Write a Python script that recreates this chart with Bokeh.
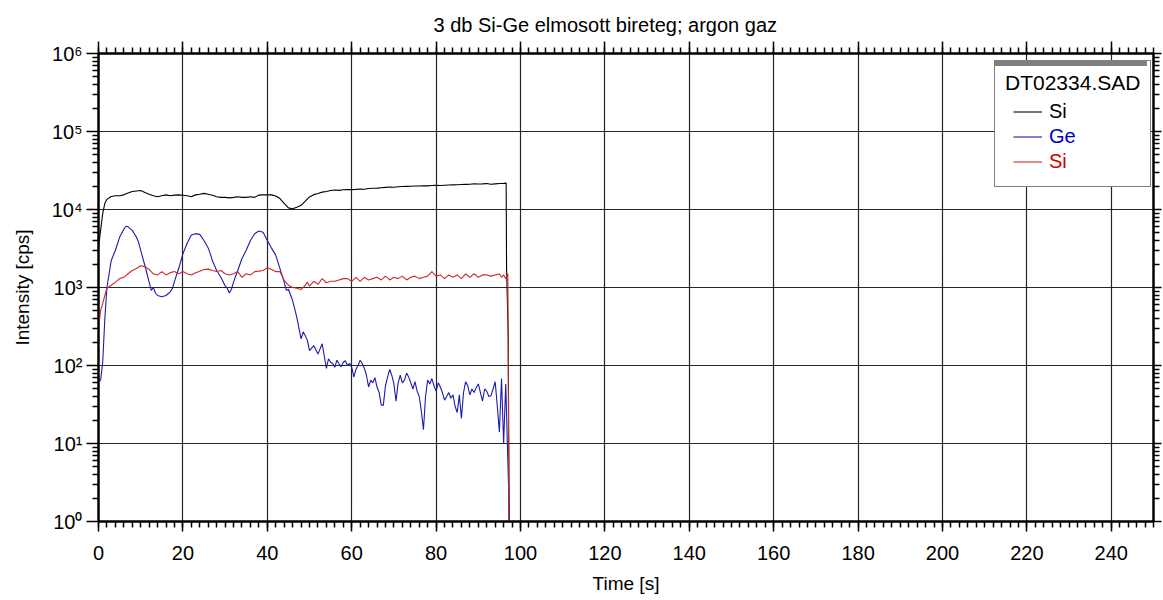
from bokeh.plotting import figure
from bokeh.models import (Range1d, LinearAxis, LogAxis, SingleIntervalTicker, FixedTicker,
                          Legend, LegendItem, CustomJSTickFormatter, CustomLabelingPolicy)
from bokeh.embed import file_html
from bokeh.resources import INLINE

FONT = "Liberation Sans"

# ---------------- data ----------------
t_si = [0, 0.5, 1, 1.5, 2, 3, 4, 5, 6, 7, 8, 9, 10, 11, 12, 13, 14, 15, 16, 17, 18, 19, 20,
        21, 22, 23, 24, 25, 26, 27, 28, 29, 30, 31, 32, 33, 34, 35, 36, 37, 38, 39, 40,
        41, 42, 43, 44, 45, 46, 47, 48, 49, 50, 51, 52, 53, 54, 55, 56, 57, 58, 59, 60,
        61, 62, 63, 64, 65, 66, 67, 68, 69, 70, 71, 72, 73, 74, 75, 76, 77, 78, 79, 80,
        81, 82, 83, 84, 85, 86, 87, 88, 89, 90, 91, 92, 93, 94, 95, 96, 96.6, 96.7,
        97.1, 97.2, 97.4]
si = [3300, 5400, 8900, 12000, 13500, 14700, 15000, 15000, 15400, 16300, 17000, 17300, 17500,
      16500, 15700, 15000, 14600, 15000, 15400, 15000, 15300, 15400, 15200,
      15000, 14600, 15400, 15700, 16100, 15700, 15200, 14600, 14300, 14300, 14100, 14300,
      14600, 14300, 14300, 14600, 14300, 15300, 15400, 15400,
      15400, 14900, 13800, 12000, 10500, 10200, 10700, 11300, 12800, 14500, 15500, 16000,
      16700, 17000, 17500, 17800, 17600, 17900, 18000, 18000,
      18100, 18300, 18200, 18600, 18700, 18800, 19000, 19200, 19400, 19300, 19600, 19700,
      19800, 19900, 20000, 20000, 20200, 20100, 20300, 20400,
      20300, 20500, 20600, 20700, 20800, 20900, 21000, 21100, 21400, 21200, 21300, 21500,
      21100, 21300, 21500, 21600, 21800, 1750, 230, 13, 0.3]

t_ge = [0, 0.5, 1, 1.5, 2, 3, 4, 5, 6, 6.5, 7, 8, 9, 9.5, 10, 11, 12, 12.5, 13, 13.5, 14, 15,
        16, 17, 17.5, 18, 19, 20, 21, 22, 23, 24, 25, 26, 26.5, 27, 28, 29, 30, 30.5, 31,
        31.5, 32, 33, 34, 35, 36, 37, 38, 39, 40, 41, 42, 43, 44, 44.5, 45, 45.5, 46, 47,
        48, 48.5, 49, 49.5, 50, 51, 52, 53, 54, 54.5, 55, 55.5, 56, 56.5, 57, 57.5, 58,
        58.5, 59, 59.5, 60, 60.5, 61, 61.5, 62, 62.5, 63, 63.5, 64, 64.5, 65, 65.5, 66,
        66.5, 67, 67.5, 68, 68.5, 69, 69.5, 70, 70.5, 71, 71.5, 72, 72.5, 73, 73.5, 74,
        74.5, 75, 75.5, 76, 76.5, 77, 77.5, 78, 78.5, 79, 79.5, 80, 80.5, 81, 81.5, 82,
        82.5, 83, 83.5, 84, 84.5, 85, 85.5, 86, 86.5, 87, 87.5, 88, 88.5, 89, 89.5, 90,
        90.5, 91, 91.5, 92, 92.5, 93, 93.5, 94, 94.5, 95, 95.5, 96, 96.5, 97.0, 97.2, 97.3]
ge = [62, 65, 110, 400, 1000, 2200, 3000, 4400, 5600, 6100, 6000, 5400, 4400, 3800, 3000,
      1900, 1170, 920, 1000, 850, 790, 760,
      790, 880, 970, 1200, 1750, 2700, 3700, 4700, 4900, 4800, 4000, 3200, 2700, 2200,
      1650, 1350, 1050, 980, 850,
      950, 1170, 1650, 2350, 3000, 4000, 4900, 5300, 5100, 4000, 3200, 2600, 1750, 1170,
      920, 950, 800, 680, 415,
      220, 270, 240, 210, 155, 180, 140, 190, 92, 122, 110, 106, 95, 117, 105, 96, 110,
      115, 100, 106, 95, 71, 89, 100, 117, 105, 92, 75, 53, 65, 60, 70, 53,
      45, 31, 31, 55, 71, 89, 75, 58, 35, 60, 75, 60, 65, 80, 71, 60,
      50, 62, 47, 40, 26, 15, 40, 65, 58, 68, 55, 47, 60, 53, 45, 36,
      40, 45, 38, 42, 30, 25, 42, 21, 45, 62, 55, 42, 50, 45, 52, 58,
      45, 35, 50, 47, 40, 41, 50, 62, 30, 14, 68, 10, 58, 6, 2.4, 0.3]

t_si2 = [0, 0.5, 1, 1.5, 2, 3, 4, 5, 6, 7, 8, 9, 10, 11, 12, 13, 14, 15, 16, 17, 18, 19, 20,
         21, 22, 23, 24, 25, 26, 27, 28, 29, 30, 31, 32, 33, 34, 35, 36, 37, 38, 39, 40,
         41, 42, 43, 44, 45, 46, 47, 48, 49, 49.5, 50, 51, 52, 53, 54, 55, 56, 57, 58, 59,
         60, 61, 62, 63, 64, 65, 66, 67, 68, 69, 70, 71, 72, 73, 74, 75, 76, 77, 78, 79,
         80, 81, 82, 83, 84, 85, 86, 87, 88, 89, 90, 91, 92, 93, 94, 95, 95.5, 96, 96.5,
         97.0, 97.3]
si2 = [300, 510, 620, 790, 980, 1070, 1170, 1300, 1350, 1500, 1650, 1750, 1900, 1850, 1700,
       1500, 1450, 1600, 1450, 1550, 1600, 1500, 1600,
       1500, 1450, 1550, 1620, 1700, 1720, 1650, 1600, 1650, 1500, 1450, 1500, 1600, 1350,
       1500, 1450, 1600, 1620, 1650, 1800,
       1700, 1600, 1600, 1230, 1070, 1000, 980, 940, 1070, 1170, 1040, 1200, 1100, 1300,
       1150, 1200, 1200, 1250, 1300, 1300,
       1200, 1350, 1200, 1350, 1250, 1300, 1350, 1250, 1400, 1250, 1350, 1300, 1400, 1250,
       1350, 1400, 1300, 1350, 1400, 1600,
       1400, 1450, 1300, 1450, 1350, 1450, 1300, 1500, 1350, 1500, 1350, 1450, 1450, 1400,
       1450, 1500, 1350, 1450, 1300, 1500, 0.3]

y_major = [1, 10, 100, 1000, 10000, 100000, 1000000]
y_labels = ["10\u2070", "10\u00b9", "10\u00b2", "10\u00b3", "10\u2074", "10\u2075", "10\u2076"]
y_minor = [m * d for d in y_major[:-1] for m in range(2, 10)]

title_text = "3 db Si-Ge elmosott bireteg; argon gaz"
legend_title = "DT02334.SAD"
names = ["Si", "Ge", "Si"]
colors = ["#000000", "#1c1ca8", "#cc2a2a"]
label_colors = ["#000000", "#0000cc", "#cc0000"]

# ---------------- figure ----------------
p = figure(width=1163, height=600, y_axis_type="log",
           x_range=Range1d(0, 250), y_range=Range1d(1, 1e6),
           output_backend="svg", toolbar_location=None,
           min_border_left=98, min_border_right=10, min_border_top=53, min_border_bottom=79)
p.background_fill_color = "white"
p.border_fill_color = "white"
p.outline_line_color = "black"
p.outline_line_width = 2

p.title.text = title_text
p.title.text_font = FONT
p.title.text_font_size = "20px"
p.title.text_font_style = "normal"
p.title.text_color = "black"
p.title.align = "left"
p.title.offset = 335
p.title.standoff = 12

xt = SingleIntervalTicker(interval=20, num_minor_ticks=10)
yt = FixedTicker(ticks=y_major, minor_ticks=y_minor)

def style_axis(ax):
    ax.axis_line_color = "black"
    ax.axis_line_width = 2
    ax.major_tick_line_color = "black"
    ax.minor_tick_line_color = "black"
    ax.major_tick_line_width = 1.5
    ax.minor_tick_line_width = 1.5
    ax.major_tick_in = 0
    ax.minor_tick_in = 0
    ax.major_label_text_font = FONT
    ax.major_label_text_font_size = "20px"
    ax.major_label_text_color = "black"
    ax.axis_label_text_font = FONT
    ax.axis_label_text_font_size = "19px"
    ax.axis_label_text_font_style = "normal"
    ax.axis_label_text_color = "black"

def hide_labels(ax, standoff=0):
    ax.formatter = CustomJSTickFormatter(code="return ''")
    ax.major_label_policy = CustomLabelingPolicy(code="for (const i of indices) indices.unset(i)")
    ax.major_label_text_font_size = "1px"
    ax.major_label_standoff = standoff

xa = p.xaxis[0]
xa.ticker = xt
style_axis(xa)
xa.major_tick_out = 10
xa.minor_tick_out = 6
xa.major_label_standoff = 14
xa.axis_label = "Time [s]"
xa.axis_label_standoff = 10

ya = p.yaxis[0]
ya.ticker = yt
style_axis(ya)
ya.major_tick_out = 12
ya.minor_tick_out = 6
ya.major_label_standoff = 4
ya.major_label_overrides = {float(v): s for v, s in zip(y_major, y_labels)}
ya.axis_label = "Intensity [cps]"
ya.axis_label_standoff = 16

top = LinearAxis(ticker=xt)
style_axis(top)
hide_labels(top, standoff=8)
top.major_tick_out = 12
top.minor_tick_out = 6
p.add_layout(top, "above")

right = LogAxis(ticker=yt)
style_axis(right)
hide_labels(right)
right.major_tick_out = 8
right.minor_tick_out = 6
p.add_layout(right, "right")

p.xgrid.ticker = xt
p.ygrid.ticker = yt
for g in (p.xgrid[0], p.ygrid[0]):
    g.grid_line_color = "black"
    g.grid_line_alpha = 0.85
    g.grid_line_width = 1.2

# ---------------- lines ----------------
r_si = p.line(t_si, si, line_color=colors[0], line_width=1.1)
r_ge = p.line(t_ge, ge, line_color=colors[1], line_width=1.1)
r_si2 = p.line(t_si2, si2, line_color=colors[2], line_width=1.1)
dummy = p.line([0], [1], line_alpha=0)

# ---------------- legend ----------------
legA = Legend(items=[LegendItem(label=" ", renderers=[dummy]) for _ in range(3)],
              location=(896, 334), title=legend_title,
              title_text_font=FONT, title_text_font_size="21px", title_text_font_style="normal",
              title_text_color="black",
              title_standoff=6, padding=10, spacing=0, margin=0,
              label_height=25, glyph_height=25, label_text_font=FONT, label_text_font_size="20px",
              border_line_color="black", border_line_width=1.5,
              background_fill_color="white", background_fill_alpha=1)
p.add_layout(legA)

# grey header band of the legend box
legH = Legend(items=[LegendItem(label=" ", renderers=[dummy])], location=(897, 455),
              padding=0, spacing=0, margin=0, glyph_width=152, glyph_height=6,
              label_height=6, label_width=0, label_standoff=0,
              label_text_font=FONT, label_text_font_size="6px",
              border_line_alpha=0, background_fill_color="#7f7f7f", background_fill_alpha=1)
p.add_layout(legH)

row_bottoms = [397, 372, 347]
for r, name, lc, yb in zip([r_si, r_ge, r_si2], names, label_colors, row_bottoms):
    lg = Legend(items=[LegendItem(label=name, renderers=[r])], location=(915, yb),
                padding=0, spacing=0, margin=0, glyph_width=29, glyph_height=25,
                label_height=25, label_standoff=7,
                label_text_font=FONT, label_text_font_size="20px", label_text_color=lc,
                border_line_alpha=0, background_fill_alpha=0)
    p.add_layout(lg)

open("out.html", "w").write(file_html(p, INLINE))
